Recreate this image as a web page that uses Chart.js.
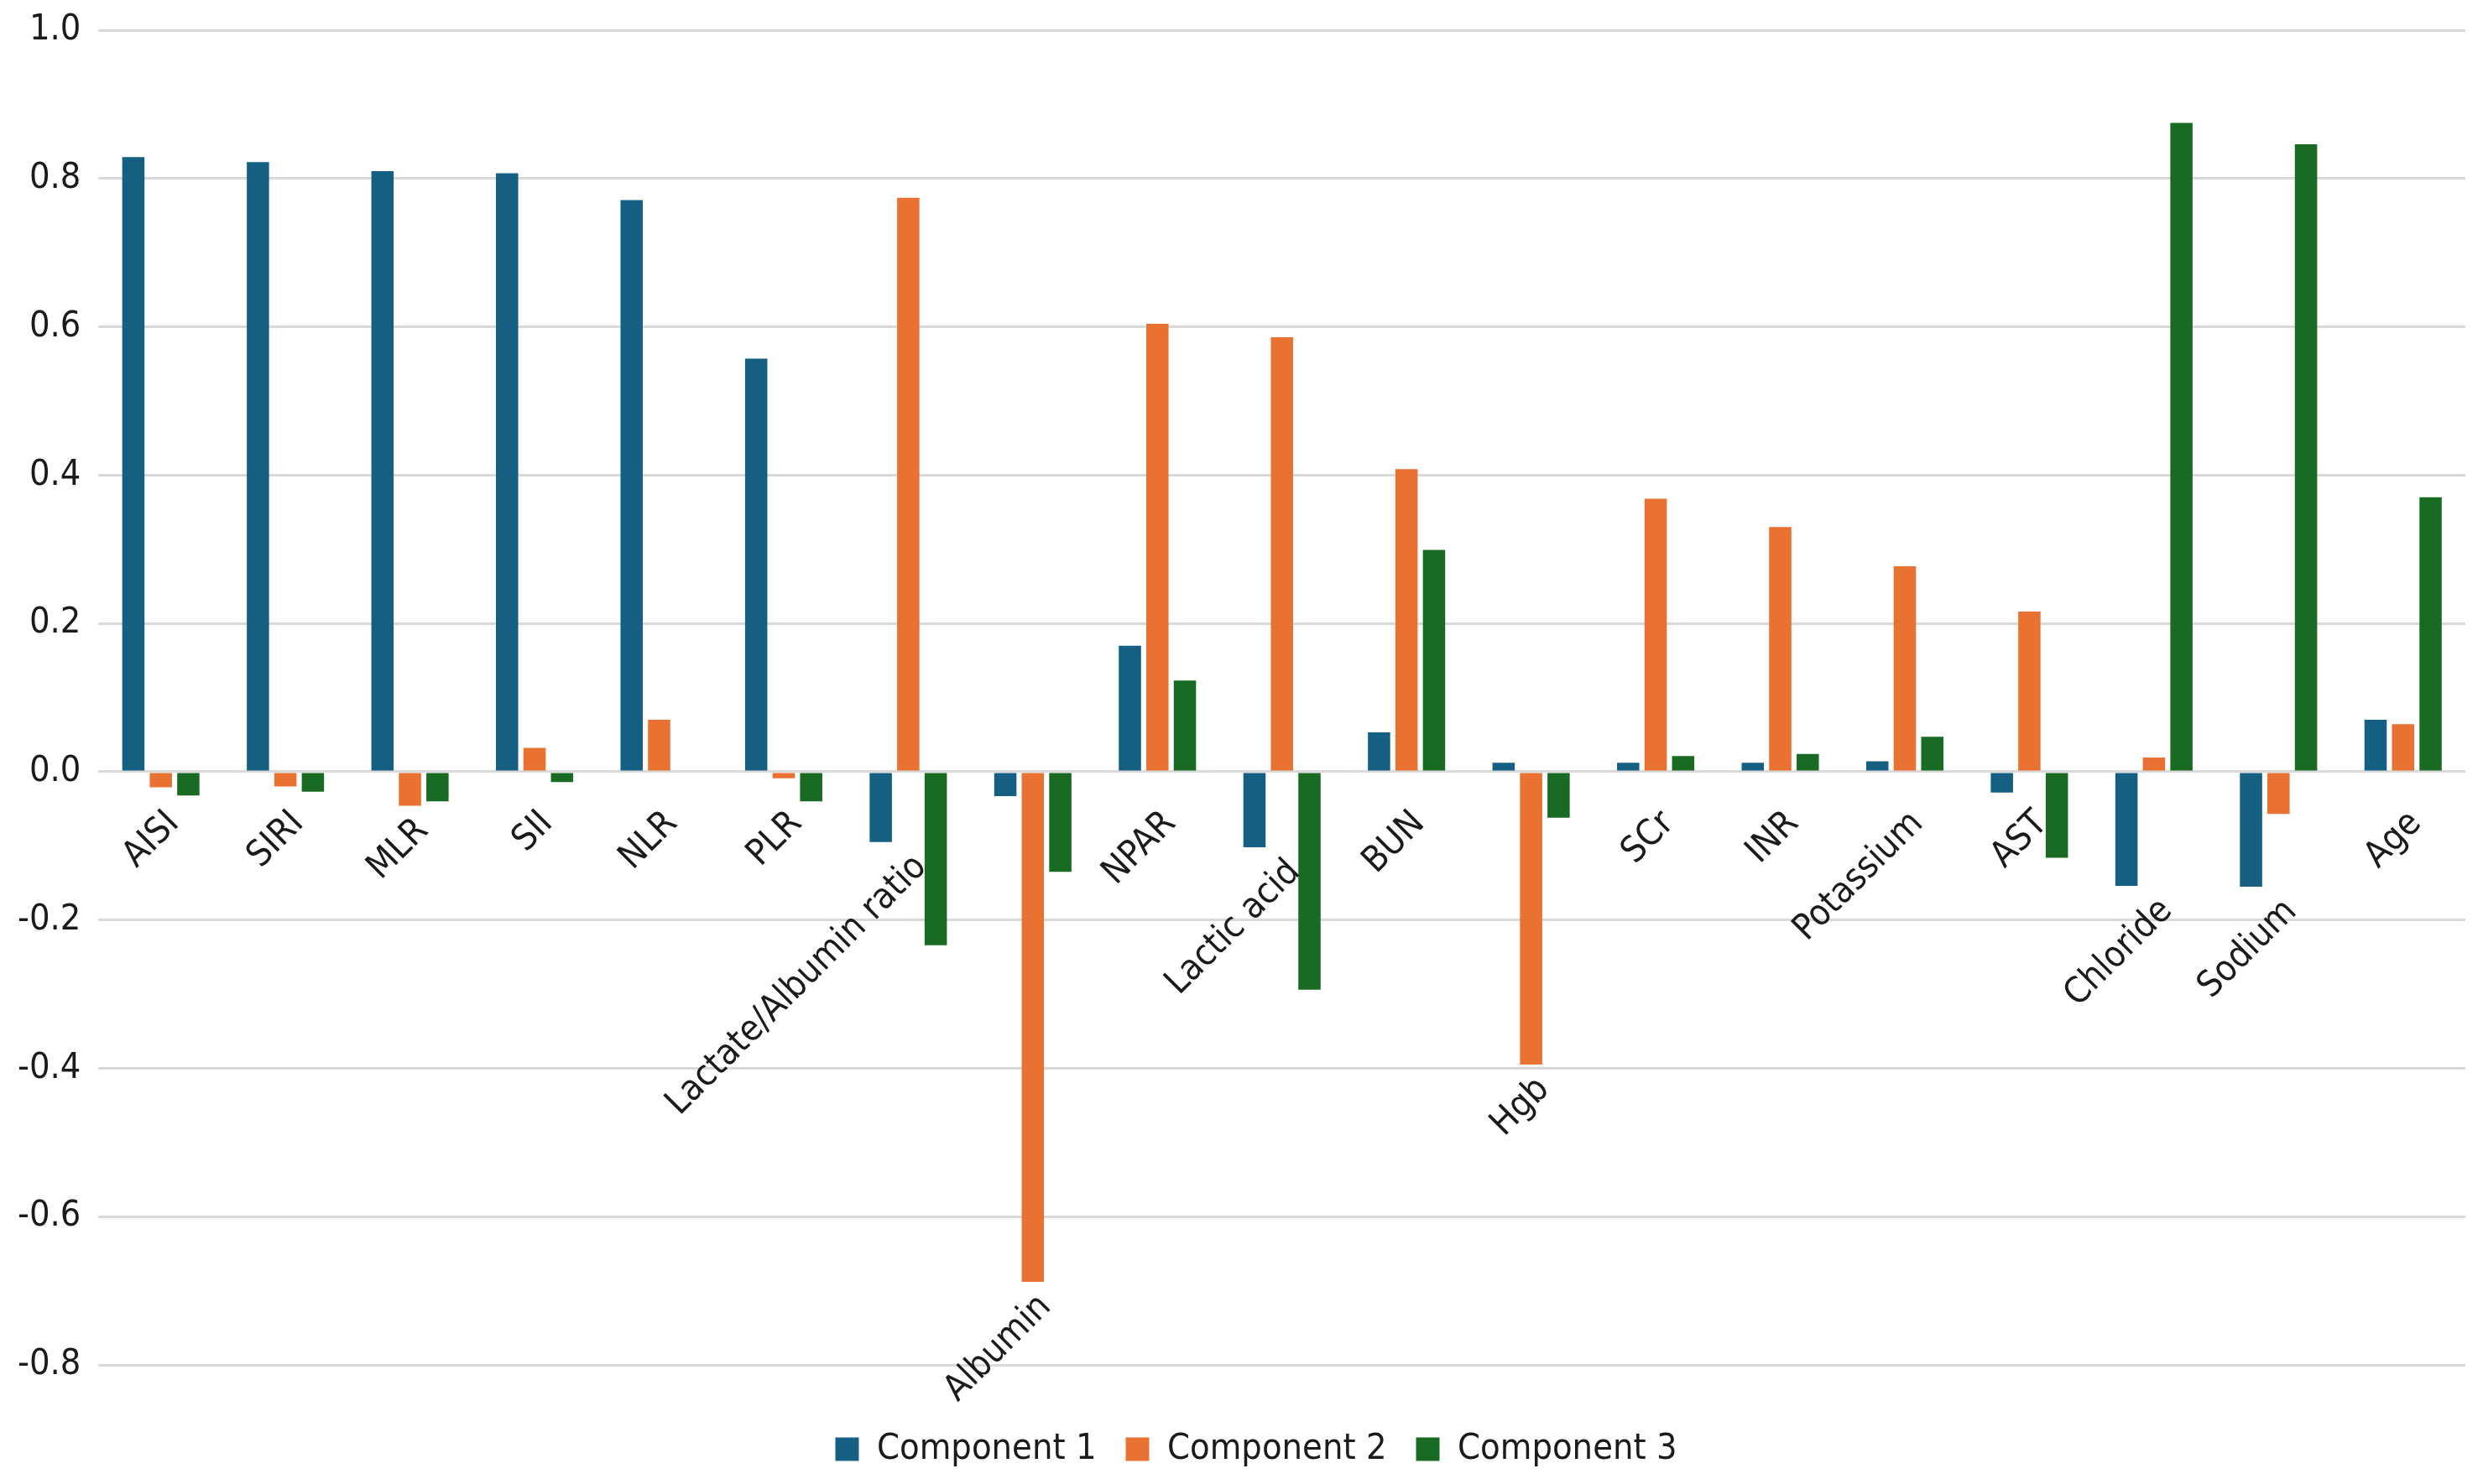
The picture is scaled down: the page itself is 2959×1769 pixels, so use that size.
<!DOCTYPE html>
<html>
<head>
<meta charset="utf-8">
<script src="https://cdn.jsdelivr.net/npm/chart.js@4.4.1/dist/chart.umd.min.js"></script>
<style>
    html, body { margin: 0; padding: 0; background: #ffffff; }
    #wrap { width: 2959px; height: 1769px; }
</style>
</head>
<body>
<div id="wrap"><canvas id="loadingChart"></canvas></div>
<script>
var categories = ["AISI", "SIRI", "MLR", "SII", "NLR", "PLR", "Lactate/Albumin ratio", "Albumin",
    "NPAR", "Lactic acid", "BUN", "Hgb", "SCr", "INR", "Potassium", "AST", "Chloride", "Sodium", "Age"];
var component1 = [0.829, 0.822, 0.810, 0.807, 0.771, 0.557, -0.095, -0.033, 0.170, -0.102,
    0.053, 0.012, 0.012, 0.012, 0.014, -0.028, -0.154, -0.155, 0.070];
var component2 = [-0.021, -0.020, -0.046, 0.032, 0.070, -0.009, 0.774, -0.688, 0.604, 0.586,
    0.408, -0.395, 0.368, 0.330, 0.277, 0.216, 0.019, -0.057, 0.064];
var component3 = [-0.032, -0.027, -0.040, -0.014, 0, -0.040, -0.234, -0.135, 0.123, -0.294,
    0.299, -0.062, 0.021, 0.024, 0.047, -0.116, 0.875, 0.846, 0.370];
var seriesNames = ["Component 1", "Component 2", "Component 3"];
var yMin = -0.8, yMax = 1.0, yStep = 0.2;

var fontFamily = "'DejaVu Sans Condensed', 'DejaVu Sans', sans-serif";
var textColor = "#1b1b1b";

// category names sit under the bars, pushed down below any negative bar to their left
var categoryLabels = {
    id: "categoryLabels",
    afterLayout: function (chart) {
        // legend sits a little right of the canvas centre in the original
        chart.legend.left += 28;
        chart.legend.right += 28;
    },
    afterDatasetsDraw: function (chart) {
        var ctx = chart.ctx;
        var x = chart.scales.x, y = chart.scales.y;
        var zero = y.getPixelForValue(0);
        ctx.save();
        ctx.font = "43px " + fontFamily;
        ctx.fillStyle = textColor;
        ctx.textAlign = "right";
        ctx.textBaseline = "top";
        categories.forEach(function (name, i) {
            var cx = x.getPixelForValue(i);
            var top = zero + 40;
            chart.data.datasets.forEach(function (ds, d) {
                var bar = chart.getDatasetMeta(d).data[i];
                if (ds.data[i] < 0 && bar.x < cx + 5) {
                    top = Math.max(top, bar.y + 8);
                }
            });
            ctx.save();
            ctx.translate(cx, top);
            ctx.rotate(-Math.PI / 4);
            ctx.fillText(name, 0, 0);
            ctx.restore();
        });
        ctx.restore();
    }
};

function buildLoadingChart(elementId) {
    var ctx = document.getElementById(elementId).getContext("2d");
    window.loadingChart = new Chart(ctx, {
        type: "bar",
        data: {
            labels: categories,
            datasets: [
                { label: seriesNames[0], data: component1, backgroundColor: "#156082" },
                { label: seriesNames[1], data: component2, backgroundColor: "#E97132" },
                { label: seriesNames[2], data: component3, backgroundColor: "#196B24" }
            ]
        },
        options: {
            responsive: true,
            maintainAspectRatio: false,
            devicePixelRatio: 1,
            animation: false,
            categoryPercentage: 0.662,
            barPercentage: 0.81,
            layout: { padding: { top: 36, left: 0, right: 21, bottom: 10 } },
            plugins: {
                tooltip: { enabled: false },
                legend: {
                    position: "bottom",
                    labels: {
                        boxWidth: 28,
                        boxHeight: 28,
                        padding: 35,
                        color: textColor,
                        font: { family: fontFamily, size: 43 }
                    }
                }
            },
            scales: {
                x: {
                    grid: { display: false },
                    border: { display: false },
                    ticks: { display: false },
                    afterFit: function (scale) { scale.height = 44; }
                },
                y: {
                    min: yMin,
                    max: yMax,
                    border: { display: false },
                    grid: { color: "#d9d9d9", lineWidth: 3, drawTicks: false },
                    ticks: {
                        stepSize: yStep,
                        padding: 21,
                        color: textColor,
                        font: { family: fontFamily, size: 43, lineHeight: 0.5 },
                        callback: function (v) { return v.toFixed(1); }
                    }
                }
            }
        },
        plugins: [categoryLabels]
    });
}

buildLoadingChart("loadingChart");
</script>
</body>
</html>
